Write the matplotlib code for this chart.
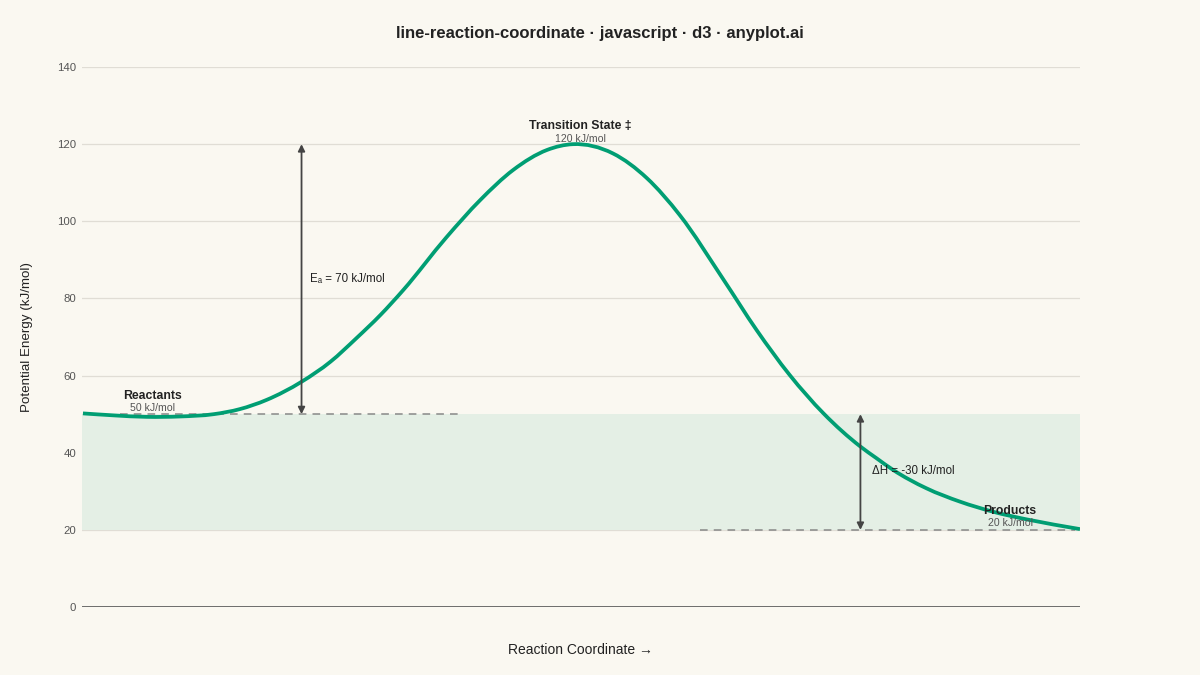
import numpy as np
import matplotlib
matplotlib.use("Agg")
import matplotlib.pyplot as plt
from matplotlib.path import Path
from matplotlib.patches import PathPatch

# energy profile (reaction coordinate 0..1, energy in kJ/mol)
coord = [0.001, 0.031, 0.065, 0.098, 0.132, 0.158, 0.185, 0.220, 0.249, 0.275,
         0.299, 0.322, 0.365, 0.399, 0.432, 0.466, 0.492, 0.532, 0.566,
         0.599, 0.643, 0.676, 0.709, 0.743, 0.780, 0.796, 0.813,
         0.846, 0.880, 0.913, 0.947, 1.000]
energy = [50.2, 49.7, 49.3, 49.4, 50.0, 51.3, 53.7, 58.4, 63.6, 69.7,
          75.7, 82.2, 95.8, 105.5, 113.3, 118.5, 120.0, 117.6, 111.2,
          101.6, 84.8, 71.8, 60.2, 50.2, 41.6, 38.6, 35.5,
          30.8, 27.3, 24.7, 22.7, 20.2]

e_reactants = 50
e_ts = 120
e_products = 20
ea_x = 0.22
dh_x = 0.78
yticks = [0, 20, 40, 60, 80, 100, 120, 140]

bg = "#FAF8F1"
green = "#009E73"
ink = "#444444"


def smooth_path(xs, ys):
    """cubic hermite curve through the points (finite difference slopes)"""
    x = np.asarray(xs, float)
    y = np.asarray(ys, float)
    m = np.gradient(y, x)
    verts = [(x[0], y[0])]
    codes = [Path.MOVETO]
    for i in range(len(x) - 1):
        h = x[i + 1] - x[i]
        verts += [(x[i] + h / 3, y[i] + m[i] * h / 3),
                  (x[i + 1] - h / 3, y[i + 1] - m[i + 1] * h / 3),
                  (x[i + 1], y[i + 1])]
        codes += [Path.CURVE4] * 3
    return Path(verts, codes)


plt.rcParams["font.family"] = ["Liberation Sans", "DejaVu Sans"]

fig = plt.figure(figsize=(12, 6.75), dpi=100, facecolor=bg)
ax = fig.add_axes([0.0683, 0.1007, 0.8317, 0.8])
ax.set_facecolor(bg)
ax.set_xlim(0, 1)
ax.set_ylim(0, 140)

# grid + axis
for yv in yticks[1:]:
    ax.axhline(yv, color="#E0DDD5", lw=0.9, zorder=0)
ax.axhline(0, color="#555555", lw=1.2, zorder=1)
for s in ax.spines.values():
    s.set_visible(False)
ax.set_yticks(yticks)
ax.set_yticklabels([str(v) for v in yticks], fontsize=8.2, color="#555555")
ax.tick_params(axis="y", length=0, pad=4.3)
ax.set_xticks([])

# shaded band between product and reactant energies
ax.axhspan(e_products, e_reactants, color="#E4EFE5", zorder=0.5, lw=0)

# reference dashed lines
ax.plot([0.038, 0.379], [e_reactants] * 2, ls=(0, (5, 4)), color="#888888", lw=1.1, zorder=2)
ax.plot([0.619, 0.995], [e_products] * 2, ls=(0, (5, 4)), color="#888888", lw=1.1, zorder=2)

# energy curve
ax.add_patch(PathPatch(smooth_path(coord, energy), facecolor="none", edgecolor=green,
                       lw=2.7, joinstyle="round", capstyle="butt", zorder=3))

# arrows
arrow = dict(arrowstyle="<|-|>", color=ink, lw=1.3, mutation_scale=10, shrinkA=0, shrinkB=0)
ax.annotate("", xy=(ea_x, e_ts), xytext=(ea_x, e_reactants), arrowprops=arrow, zorder=4)
ax.annotate("", xy=(dh_x, e_reactants), xytext=(dh_x, e_products), arrowprops=arrow, zorder=4)

ax.text(ea_x + 0.008, 85, "E\u2090 = 70 kJ/mol", fontsize=8.3, color="#222222", va="center", ha="left", zorder=5)
ax.text(dh_x + 0.012, 35.2, "\u0394H = -30 kJ/mol", fontsize=8.3, color="#222222", va="center", ha="left", zorder=5)

# state labels
ax.text(0.0705, 54.6, "Reactants", fontsize=8.8, fontweight="bold", color="#222222", ha="center", va="center")
ax.text(0.0705, 51.5, "50 kJ/mol", fontsize=7.6, color="#555555", ha="center", va="center")
ax.text(0.4995, 124.7, "Transition State \u2021", fontsize=8.8, fontweight="bold", color="#222222", ha="center", va="center")
ax.text(0.4995, 121.4, "120 kJ/mol", fontsize=7.6, color="#555555", ha="center", va="center")
ax.text(0.930, 25.0, "Products", fontsize=8.8, fontweight="bold", color="#222222", ha="center", va="center")
ax.text(0.930, 21.9, "20 kJ/mol", fontsize=7.6, color="#555555", ha="center", va="center")

ax.set_ylabel("Potential Energy (kJ/mol)", fontsize=9.6, color="#222222", labelpad=17.5)
fig.text(0.484, 0.037, "Reaction Coordinate \u2192", fontsize=10, color="#222222", ha="center", va="center")
fig.text(0.5, 0.950, "line-reaction-coordinate \u00b7 javascript \u00b7 d3 \u00b7 anyplot.ai",
         fontsize=12, fontweight="bold", color="#222222", ha="center", va="center")

fig.savefig("out.png", dpi=100, facecolor=bg)
